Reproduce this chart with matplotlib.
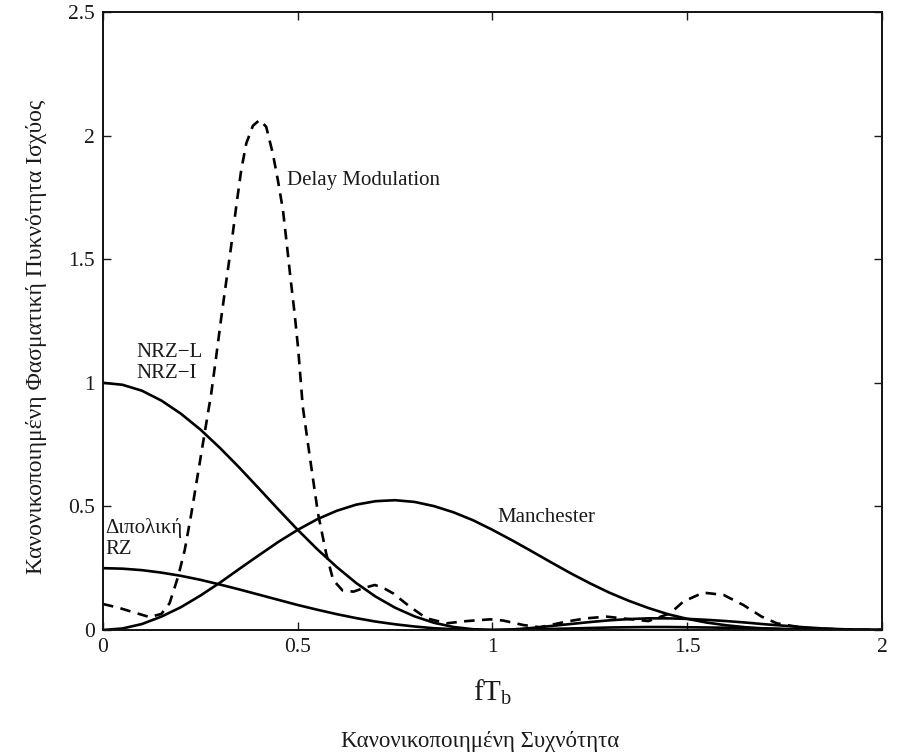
import matplotlib
matplotlib.use("Agg")
import matplotlib.pyplot as plt

plt.rcParams['font.family'] = ['Liberation Serif', 'DejaVu Serif']
plt.rcParams['mathtext.fontset'] = 'custom'
plt.rcParams['mathtext.rm'] = 'Liberation Serif'
plt.rcParams['mathtext.it'] = 'Liberation Serif:italic'

# ---- data ----
f_grid = [0.00, 0.05, 0.10, 0.15, 0.20, 0.25, 0.30, 0.35, 0.40, 0.45,
          0.50, 0.55, 0.60, 0.65, 0.70, 0.75, 0.80, 0.85, 0.90, 0.95,
          1.00, 1.05, 1.10, 1.15, 1.20, 1.25, 1.30, 1.35, 1.40, 1.45,
          1.50, 1.55, 1.60, 1.65, 1.70, 1.75, 1.80, 1.85, 1.90, 1.95, 2.00]

nrz = [1.000, 0.992, 0.968, 0.928, 0.875, 0.811, 0.737, 0.657, 0.573, 0.488,
       0.405, 0.327, 0.255, 0.190, 0.135, 0.090, 0.055, 0.029, 0.012, 0.003,
       0.000, 0.002, 0.008, 0.016, 0.024, 0.032, 0.039, 0.044, 0.047, 0.047,
       0.045, 0.041, 0.036, 0.030, 0.023, 0.017, 0.011, 0.006, 0.003, 0.001, 0.000]

bipolar_rz = [0.250, 0.248, 0.242, 0.232, 0.219, 0.203, 0.184, 0.164, 0.143, 0.122,
              0.101, 0.082, 0.064, 0.048, 0.034, 0.023, 0.014, 0.007, 0.003, 0.001,
              0.000, 0.001, 0.002, 0.004, 0.006, 0.008, 0.010, 0.011, 0.012, 0.012,
              0.011, 0.010, 0.009, 0.007, 0.006, 0.004, 0.003, 0.002, 0.001, 0.000, 0.000]

manchester = [0.000, 0.006, 0.024, 0.054, 0.092, 0.139, 0.191, 0.247, 0.302, 0.356,
              0.405, 0.448, 0.482, 0.507, 0.521, 0.525, 0.518, 0.501, 0.476, 0.444,
              0.405, 0.363, 0.319, 0.274, 0.230, 0.189, 0.151, 0.118, 0.089, 0.064,
              0.045, 0.030, 0.019, 0.011, 0.006, 0.003, 0.001, 0.000, 0.000, 0.000, 0.000]

dm_f = [0.000, 0.040, 0.086, 0.120, 0.150, 0.171, 0.193, 0.210, 0.227, 0.244,
        0.261, 0.278, 0.291, 0.304, 0.317, 0.329, 0.342, 0.355, 0.368, 0.385,
        0.402, 0.419, 0.436, 0.449, 0.462, 0.471, 0.481, 0.492, 0.501, 0.513,
        0.531, 0.552, 0.573, 0.591, 0.615, 0.643, 0.670, 0.698, 0.720, 0.745,
        0.788, 0.831, 0.882, 0.934, 0.994, 1.028, 1.079, 1.122, 1.190, 1.240,
        1.293, 1.345, 1.400, 1.456, 1.490, 1.541, 1.593, 1.644, 1.691, 1.730,
        1.800, 1.900, 2.000]
delay_mod = [0.105, 0.090, 0.068, 0.052, 0.065, 0.108, 0.216, 0.324, 0.472, 0.634,
             0.796, 0.957, 1.110, 1.267, 1.416, 1.551, 1.712, 1.861, 1.969, 2.040,
             2.063, 2.036, 1.928, 1.820, 1.700, 1.575, 1.430, 1.280, 1.140, 0.903,
             0.701, 0.472, 0.310, 0.202, 0.160, 0.155, 0.170, 0.182, 0.170, 0.148,
             0.094, 0.047, 0.027, 0.036, 0.043, 0.038, 0.020, 0.011, 0.034, 0.047,
             0.054, 0.045, 0.036, 0.067, 0.115, 0.151, 0.142, 0.101, 0.054, 0.027,
             0.008, 0.002, 0.000]

x_ticks = [0, 0.5, 1, 1.5, 2]
y_ticks = [0, 0.5, 1, 1.5, 2, 2.5]
x_tick_labels = ['0', '0.5', '1', '1.5', '2']
y_tick_labels = ['0', '0.5', '1', '1.5', '2', '2.5']

fig = plt.figure(figsize=(9, 7.55), dpi=100)
ax = fig.add_axes([0.1144, 0.1656, 0.8656, 0.8185])

lw = 1.9
ax.plot(f_grid, nrz, color='black', lw=lw)
ax.plot(f_grid, bipolar_rz, color='black', lw=lw)
ax.plot(f_grid, manchester, color='black', lw=lw)
ax.plot(dm_f, delay_mod, color='black', lw=lw, linestyle=(0, (4.0, 2.8)))

ax.set_xlim(0, 2)
ax.set_ylim(0, 2.5)
ax.set_xticks(x_ticks)
ax.set_yticks(y_ticks)
ax.set_xticklabels(x_tick_labels)
ax.set_yticklabels(y_tick_labels)
ax.tick_params(direction='in', length=6, width=1.0, top=True, right=True,
               labelsize=15.5, colors='#1a1a1a', pad=6)
for s in ax.spines.values():
    s.set_linewidth(1.4)
    s.set_color('#111111')

txt = dict(fontsize=15, color='#1a1a1a')
ax.text(0.472, 1.82, 'Delay Modulation', ha='left', va='center', **txt)
ax.text(0.085, 1.08, 'NRZ\u2212L\nNRZ\u2212I', ha='left', va='center', linespacing=1.1, **txt)
ax.text(0.005, 0.37, 'Διπολική\nRZ', ha='left', va='center', linespacing=1.1, **txt)
ax.text(1.012, 0.453, 'Manchester', ha='left', va='center', **txt)

ax.set_xlabel(r'$\mathrm{fT_b}$', fontsize=21, color='#1a1a1a', labelpad=15)
fig.text(0.041, 0.554, 'Κανονικοποιημένη Φασματική Πυκνότητα Ισχύος', rotation=90,
         ha='center', va='center', fontsize=17, color='#1a1a1a')
fig.text(0.533, 0.0035, 'Κανονικοποιημένη Συχνότητα', ha='center', va='bottom',
         fontsize=16.5, color='#1a1a1a')

fig.savefig('out.png', dpi=100)
